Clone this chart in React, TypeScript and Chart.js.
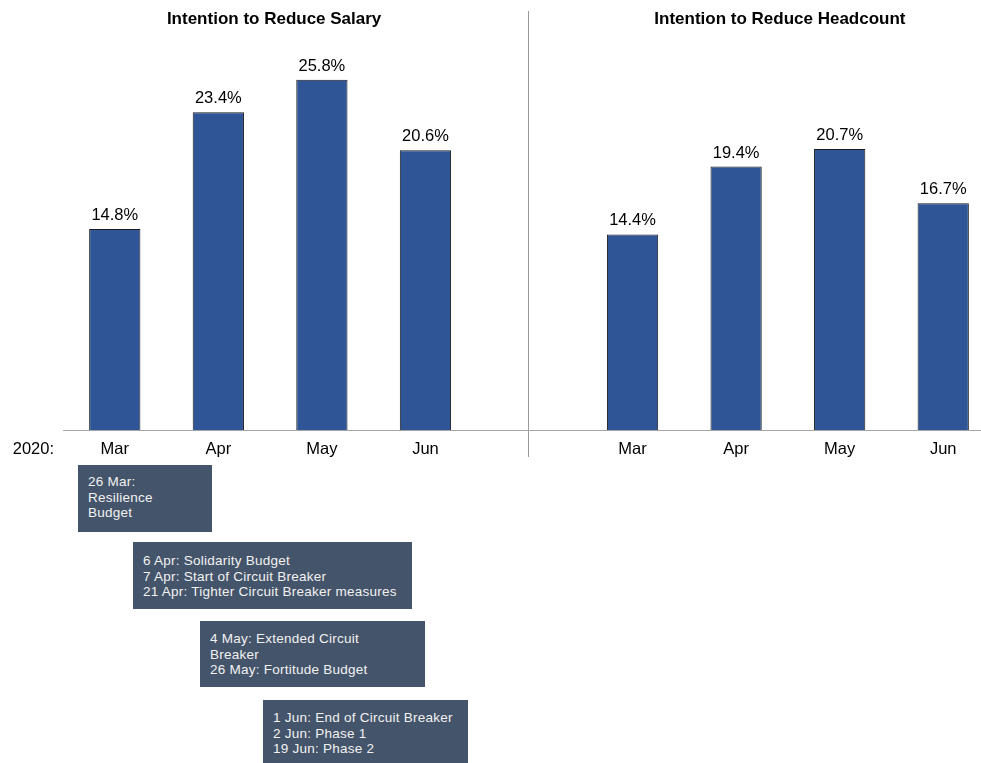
import React, { useEffect, useRef } from "react";
import { Chart, registerables } from "chart.js";

Chart.register(...registerables);

// ---- data ----
const categories = ["Mar", "Apr", "May", "Jun", "", "Mar", "Apr", "May", "Jun"];
const salaryValues = [14.8, 23.4, 25.8, 20.6];
const headcountValues = [14.4, 19.4, 20.7, 16.7];
const panelTitles = ["Intention to Reduce Salary", "Intention to Reduce Headcount"];
const yearLabel = "2020:";
const eventNotes = [
  ["26 Mar:", "Resilience", "Budget"],
  ["6 Apr: Solidarity Budget", "7 Apr: Start of Circuit Breaker", "21 Apr: Tighter Circuit Breaker measures"],
  ["4 May: Extended Circuit", "Breaker", "26 May: Fortitude Budget"],
  ["1 Jun: End of Circuit Breaker", "2 Jun: Phase 1", "19 Jun: Phase 2"],
];

// ---- layout / style ----
const noteBoxes = [
  { left: 78, top: 465, width: 134, height: 67, padTop: 9 },
  { left: 133, top: 542, width: 279, height: 67, padTop: 11 },
  { left: 200, top: 621, width: 225, height: 66, padTop: 10 },
  { left: 263, top: 700, width: 205, height: 70, padTop: 10 },
];
const FONT = "'Liberation Sans', Arial, Helvetica, sans-serif";
const BAR_COLOR = "#2F5597";
const LINE_COLOR = "#a6a6a6";

const combined: (number | null)[] = [...salaryValues, null, ...headcountValues];

const overlayPlugin = {
  id: "overlay",
  beforeDatasetsDraw(chart: any) {
    const { ctx, scales } = chart;
    const x = scales.x;
    const dx = x.getPixelForValue(4);
    ctx.save();
    ctx.strokeStyle = "#999999";
    ctx.lineWidth = 1;
    ctx.beginPath();
    ctx.moveTo(Math.round(dx) - 0.5, 11);
    ctx.lineTo(Math.round(dx) - 0.5, 457);
    ctx.stroke();
    ctx.restore();
  },
  afterDatasetsDraw(chart: any) {
    const { ctx, scales, chartArea } = chart;
    const x = scales.x;
    const meta = chart.getDatasetMeta(0);
    ctx.save();
    ctx.fillStyle = "#000";
    ctx.font = `16.5px ${FONT}`;
    ctx.textAlign = "center";
    ctx.textBaseline = "alphabetic";
    meta.data.forEach((bar: any, i: number) => {
      const v = combined[i];
      if (v == null) return;
      ctx.fillText(v.toFixed(1) + "%", bar.x, bar.y - 9);
    });
    ctx.font = `bold 17px ${FONT}`;
    const lx = (x.getPixelForValue(0) + x.getPixelForValue(3)) / 2 + 4;
    const rx = (x.getPixelForValue(5) + x.getPixelForValue(8)) / 2 - 8;
    ctx.fillText(panelTitles[0], lx, 24);
    ctx.fillText(panelTitles[1], rx, 24);
    ctx.font = `16.5px ${FONT}`;
    ctx.textAlign = "right";
    ctx.textBaseline = "middle";
    ctx.fillText(yearLabel, chartArea.left - 9, chartArea.bottom + 10 + 9.9);
    ctx.restore();
  },
};

export default function App() {
  const ref = useRef<HTMLCanvasElement | null>(null);
  useEffect(() => {
    if (!ref.current) return;
    const chart = new Chart(ref.current, {
      type: "bar",
      data: {
        labels: categories,
        datasets: [
          {
            data: combined,
            backgroundColor: BAR_COLOR,
            borderColor: "#1a1a1a",
            borderWidth: 1,
            categoryPercentage: 1,
            barPercentage: 0.495,
          },
        ],
      },
      options: {
        responsive: false,
        animation: false,
        devicePixelRatio: 1,
        events: [],
        layout: { padding: { left: 63, right: 0, top: 22.6, bottom: 10.2 } },
        plugins: { legend: { display: false }, tooltip: { enabled: false }, title: { display: false } },
        scales: {
          x: {
            grid: { display: false, drawTicks: false },
            border: { display: true, color: LINE_COLOR, width: 1 },
            ticks: {
              color: "#000",
              font: { size: 16.5, family: FONT },
              padding: 10,
              autoSkip: false,
              maxRotation: 0,
            },
          },
          y: { display: false, min: 0, max: 30 },
        },
      },
      plugins: [overlayPlugin],
    });
    return () => chart.destroy();
  }, []);

  return (
    <div
      style={{
        position: "fixed",
        left: 0,
        top: 0,
        width: 981,
        height: 763,
        overflow: "hidden",
        background: "#fff",
      }}
    >
      <canvas ref={ref} width={995} height={480} style={{ display: "block", width: 995, height: 480 }} />
      {eventNotes.map((lines, i) => {
        const b = noteBoxes[i];
        return (
          <div
            key={i}
            style={{
              position: "absolute",
              left: b.left,
              top: b.top,
              width: b.width,
              height: b.height,
              boxSizing: "border-box",
              paddingLeft: 10,
              paddingTop: b.padTop,
              background: "#44546A",
              color: "#f2f2f2",
              fontFamily: FONT,
              fontSize: 13.5,
              letterSpacing: "0.25px",
              lineHeight: "15.6px",
              whiteSpace: "nowrap",
            }}
          >
            {lines.map((l, j) => (
              <div key={j}>{l}</div>
            ))}
          </div>
        );
      })}
    </div>
  );
}
